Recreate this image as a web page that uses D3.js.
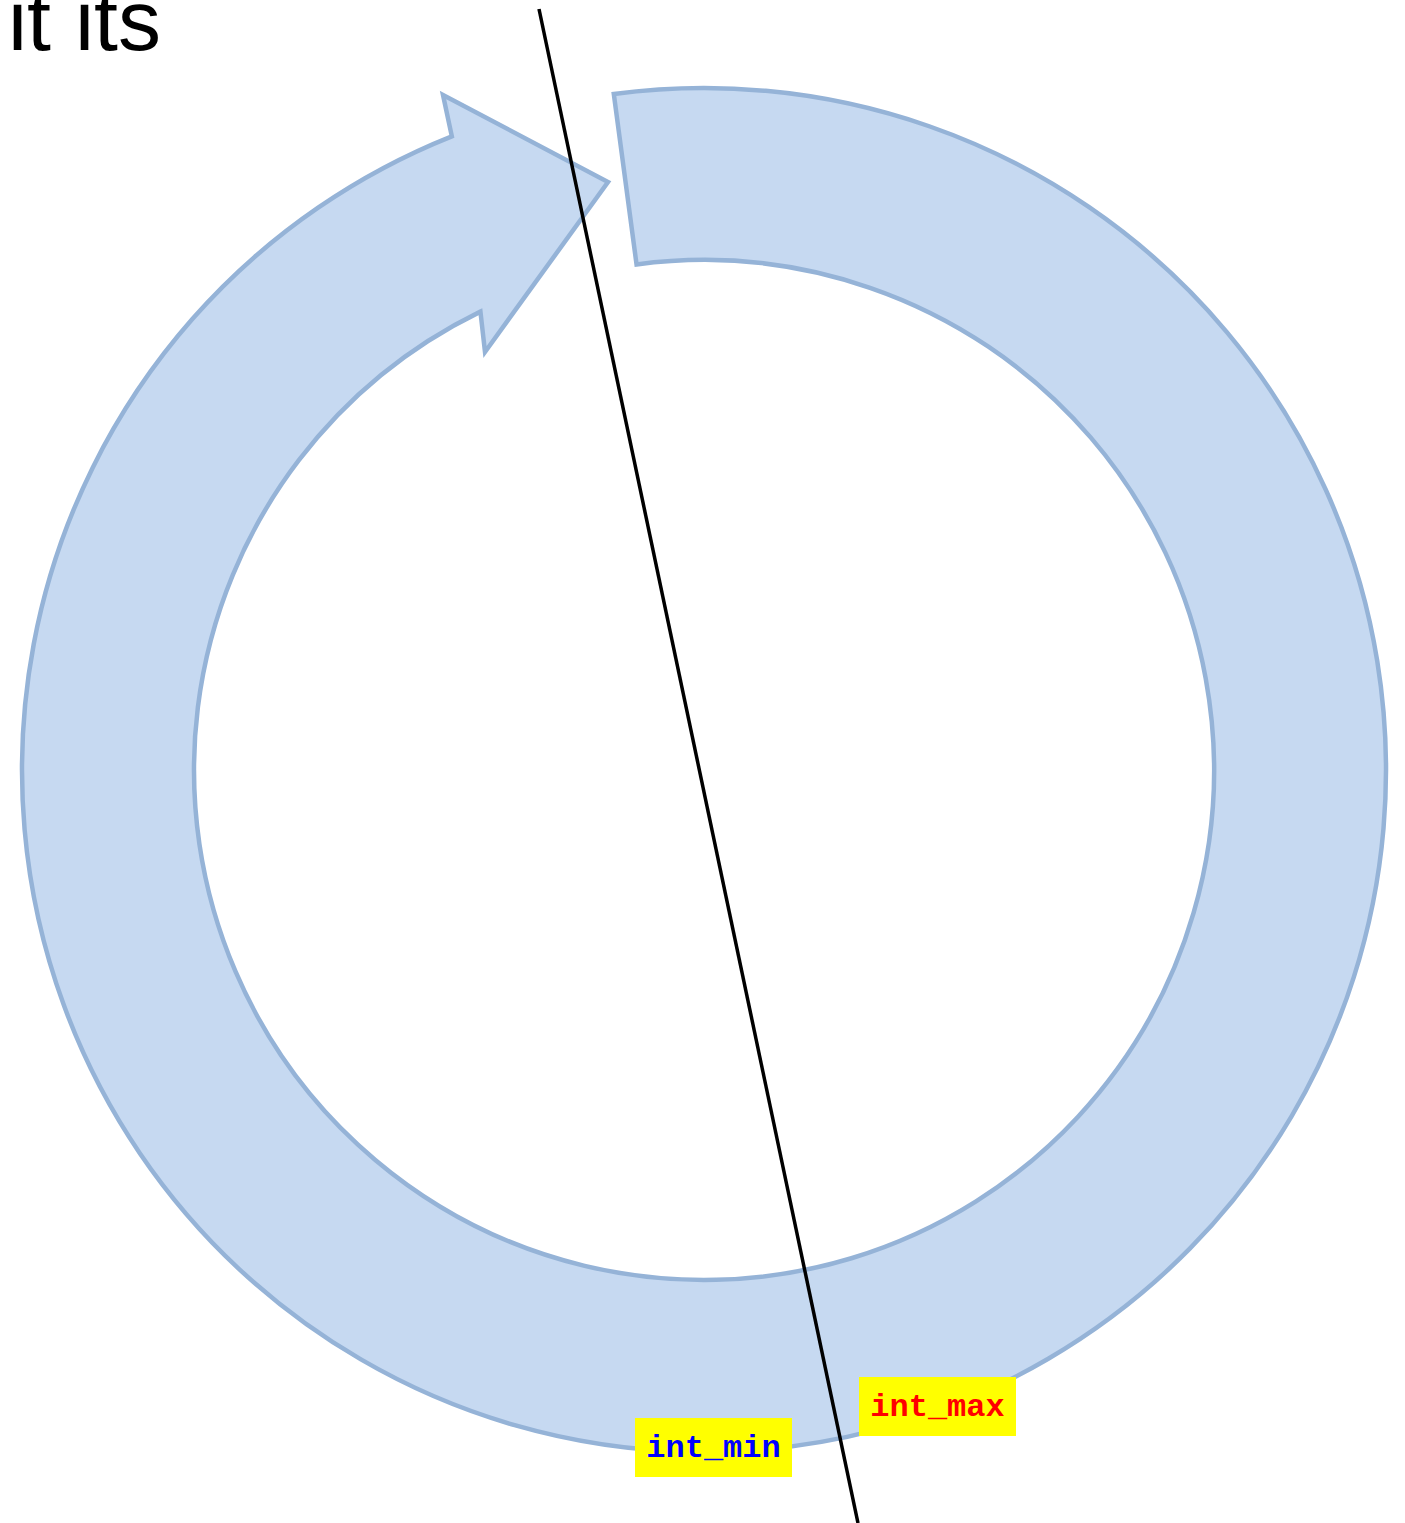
<!DOCTYPE html>
<html>
<head>
<meta charset="utf-8">
<script src="https://cdn.jsdelivr.net/npm/d3@7"></script>
<style>
  body { margin: 0; background: #fff; }
  svg { display: block; }
</style>
</head>
<body>
<svg id="chart" width="1405" height="1523"></svg>
<script>
// values
const headingText = ["it its"];
const labels = ["int_min", "int_max"];
const labelColors = ["#0000ff", "#ff0000"];
// ring angles in degrees, clockwise from top
const tailAngle = [-7.6];
const shoulderAngle = [338.3, 334.0];

const svg = d3.select("#chart");

const cx = 704, cy = 770;
const rOuter = 682, rInner = 510;

const rad = d => (d - 90) * Math.PI / 180;
const pt = (r, d) => [cx + r * Math.cos(rad(d)), cy + r * Math.sin(rad(d))];

// circular arrow
const p = d3.path();
const t0 = pt(rOuter, tailAngle[0]);
p.moveTo(t0[0], t0[1]);
p.arc(cx, cy, rOuter, rad(tailAngle[0]), rad(shoulderAngle[0]), false);
p.lineTo(443, 95);   // outer barb
p.lineTo(608, 182);  // tip
p.lineTo(485, 352);  // inner barb
const s1 = pt(rInner, shoulderAngle[1]);
p.lineTo(s1[0], s1[1]);
p.arc(cx, cy, rInner, rad(shoulderAngle[1]), rad(tailAngle[0]), true);
p.closePath();

svg.append("path")
  .attr("d", p.toString())
  .attr("fill", "#c6d9f1")
  .attr("stroke", "#95b3d7")
  .attr("stroke-width", 4.5)
  .attr("stroke-linejoin", "miter");

// dividing line
svg.append("line")
  .attr("x1", 539).attr("y1", 9)
  .attr("x2", 858).attr("y2", 1523)
  .attr("stroke", "#000")
  .attr("stroke-width", 3.5);

// clipped heading at top-left
svg.append("text")
  .attr("x", 8)
  .attr("y", 50)
  .attr("font-family", "Liberation Sans, Arial, sans-serif")
  .attr("font-size", 86)
  .attr("fill", "#000")
  .text(headingText[0]);

// labels
const boxes = [
  { x: 635, y: 1418, w: 157, h: 59 },
  { x: 859, y: 1377, w: 157, h: 59 }
];

const g = svg.selectAll("g.lbl")
  .data(labels)
  .enter()
  .append("g")
  .attr("class", "lbl");

g.append("rect")
  .attr("x", (d, i) => boxes[i].x)
  .attr("y", (d, i) => boxes[i].y)
  .attr("width", (d, i) => boxes[i].w)
  .attr("height", (d, i) => boxes[i].h)
  .attr("fill", "#ffff00");

g.append("text")
  .attr("x", (d, i) => boxes[i].x + boxes[i].w / 2)
  .attr("y", (d, i) => boxes[i].y + 39)
  .attr("text-anchor", "middle")
  .attr("font-family", "'Courier New', 'Liberation Mono', monospace")
  .attr("font-weight", "bold")
  .attr("font-size", 32)
  .attr("fill", (d, i) => labelColors[i])
  .text(d => d);
</script>
</body>
</html>
